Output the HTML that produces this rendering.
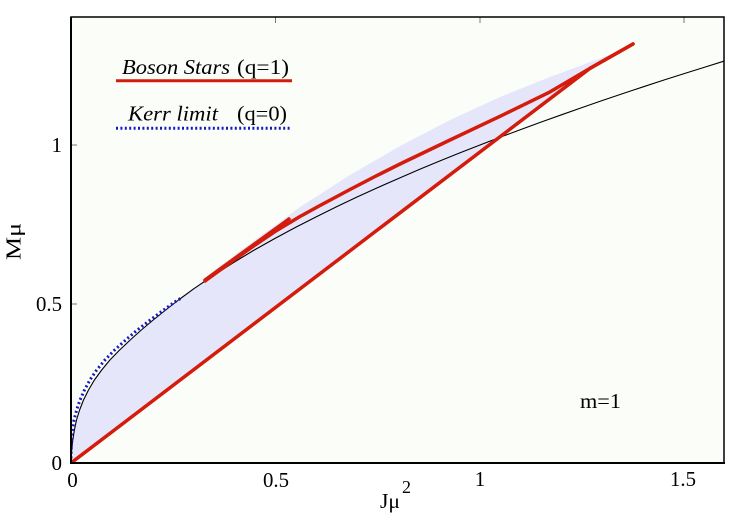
<!DOCTYPE html>
<html><head><meta charset="utf-8"><style>
html,body{margin:0;padding:0;background:#fff;}
svg{display:block;}
svg text{font-family:"Liberation Serif","DejaVu Serif","Times New Roman",serif;fill:#000;}
</style></head><body>
<svg width="750" height="525" viewBox="0 0 750 525" xmlns="http://www.w3.org/2000/svg">
<defs><clipPath id="c"><rect x="71" y="17" width="653" height="446"/></clipPath></defs>
<rect x="71" y="17" width="653" height="446" fill="#fbfef8"/>
<g clip-path="url(#c)">
<!-- shaded region -->
<polygon fill="#e6e6fa" points="71,463 590,68.3 633,44 615,53 590,62 550,77 500,97 450,120 400,146 350,175 300,207 280,222 260,236 240,251 215,270 193.7,288.8 178.5,300 165.7,310 153.2,320 141.3,330 130.2,340 119.6,350 109.9,360 101.7,370 94.4,380 88.5,390 83.5,400 79.6,410 76.5,420 74.4,430 72.8,440 71.9,448 71.26,455"/>
<!-- black curve -->
<polyline fill="none" stroke="#000" stroke-width="1.1" stroke-linejoin="round" points="71,463 71.26,455 71.9,448 72.8,440 74.4,430 76.5,420 79.6,410 83.5,400 88.5,390 94.4,380 101.7,370 109.9,360 119.6,350 130.2,340 141.3,330 153.2,320 165.7,310 178.5,300 193.7,288.8 214.2,274.9 234.6,261.9 255,249.6 275.5,238.1 296,227.1 316.4,216.7 336.8,206.6 357.3,196.9 377.7,187.6 398.2,178.6 418.6,169.8 439.1,161.3 459.5,153 480,145 500.4,137.1 520.9,129.5 541.3,122 561.8,114.7 582.2,107.5 602.7,100.4 623.1,93.5 643.6,86.7 664,80 684.5,73.5 704.9,67.1 726,60.5"/>
<!-- blue dotted Kerr -->
<polyline fill="none" stroke="#1818c0" stroke-width="3" stroke-dasharray="2 2.6" stroke-linejoin="round" points="71,463 71,455 71.5,440 72.4,430 74,420 76.6,410 80,400 84.5,390 89.9,380 96.7,370 104.9,360 114.6,350 125.7,340 137.3,330 150.2,320 163.7,310 177.5,300 181.7,298"/>
<!-- red lines -->
<g fill="none" stroke="#d41c0c" stroke-width="3.5" stroke-linejoin="round" stroke-linecap="round">
<polyline points="71,463 590,68.3 633,44"/>
<polyline points="205,281 230,262.8 255,245 275,231.5 300,216.5 320,205.5 350,189.5 375,176.5 400,164 450,140 500,116.3 550,91.9 590,68.4 633,44"/>
<polyline points="205,280 289,219"/>
</g>
</g>
<!-- ticks -->
<g stroke="#777" stroke-width="1">
<line x1="71" y1="145" x2="77" y2="145"/>
<line x1="71" y1="304" x2="77" y2="304"/>
<line x1="275.5" y1="17" x2="275.5" y2="23"/>
<line x1="480" y1="17" x2="480" y2="23"/>
<line x1="684" y1="17" x2="684" y2="23"/>
</g>
<!-- frame -->
<rect x="71" y="17" width="653" height="446" fill="none" stroke="#000" stroke-width="1.5"/>
<line x1="71" y1="17" x2="71" y2="464" stroke="#000" stroke-width="2"/>
<line x1="70" y1="463" x2="725" y2="463" stroke="#000" stroke-width="2"/>
<g font-family="'Liberation Serif', 'DejaVu Serif', 'Times New Roman', serif" font-size="21">
<!-- y tick labels -->
<text x="62" y="152" text-anchor="end">1</text>
<text x="62" y="311" text-anchor="end" textLength="26" lengthAdjust="spacingAndGlyphs">0.5</text>
<text x="62" y="470" text-anchor="end">0</text>
<!-- x tick labels -->
<text x="72.5" y="487" text-anchor="middle">0</text>
<text x="276" y="487" text-anchor="middle" textLength="26" lengthAdjust="spacingAndGlyphs">0.5</text>
<text x="480" y="486" text-anchor="middle">1</text>
<text x="683" y="486" text-anchor="middle" textLength="26" lengthAdjust="spacingAndGlyphs">1.5</text>
<!-- axis labels -->
<text x="380" y="508" textLength="20" lengthAdjust="spacingAndGlyphs">Jμ</text>
<text x="402" y="493" font-size="18">2</text>
<text transform="translate(20.5,260) rotate(-90)" textLength="37" lengthAdjust="spacingAndGlyphs">Mμ</text>
<!-- legend -->
<text x="122" y="74" font-style="italic" textLength="108" lengthAdjust="spacingAndGlyphs">Boson Stars</text>
<text x="237" y="74" textLength="52" lengthAdjust="spacingAndGlyphs">(q=1)</text>
<text x="128" y="120.5" font-style="italic" textLength="90" lengthAdjust="spacingAndGlyphs">Kerr limit</text>
<text x="237" y="120.5" textLength="50" lengthAdjust="spacingAndGlyphs">(q=0)</text>
<!-- m=1 -->
<text x="580" y="408" textLength="41" lengthAdjust="spacingAndGlyphs">m=1</text>
</g>
<line x1="116" y1="80.7" x2="292" y2="80.7" stroke="#d41c0c" stroke-width="3"/>
<line x1="116" y1="128.3" x2="290" y2="128.3" stroke="#1818c0" stroke-width="3" stroke-dasharray="2 2.4"/>
</svg>
</body></html>
